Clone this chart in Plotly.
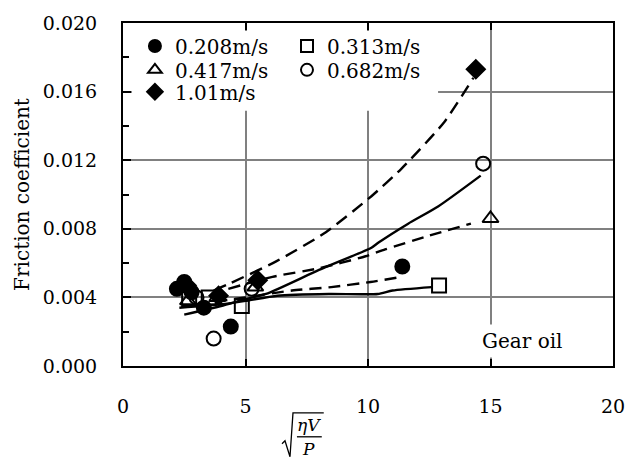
import plotly.graph_objects as go

# ---- data ----
names = ["0.208m/s", "0.313m/s", "0.417m/s", "0.682m/s", "1.01m/s"]
symbols = ["circle", "square-open", "triangle-up-open", "circle-open", "diamond"]

x_0208 = [2.2, 2.5, 2.8, 3.3, 4.4, 11.4]
y_0208 = [0.0045, 0.0049, 0.0043, 0.0034, 0.0023, 0.0058]
x_0313 = [2.7, 3.5, 4.85, 12.9]
y_0313 = [0.0039, 0.0040, 0.0035, 0.0047]
x_0417 = [2.65, 3.85, 5.4, 15.0]
y_0417 = [0.0038, 0.0040, 0.0046, 0.0086]
x_0682 = [2.5, 3.0, 3.7, 5.25, 14.7]
y_0682 = [0.0048, 0.0040, 0.0016, 0.0045, 0.0118]
x_101 = [2.6, 3.9, 5.5, 14.4]
y_101 = [0.0047, 0.0041, 0.0050, 0.0173]

# fitted curves
fx_0208 = [3.0, 5.0, 6.9, 8.5, 10.1, 11.4]
fy_0208 = [0.0036, 0.0040, 0.0044, 0.0046, 0.0049, 0.0052]
fx_0313 = [2.3, 4.0, 5.0, 6.3, 8.4, 10.4, 11.0, 12.6]
fy_0313 = [0.0034, 0.0036, 0.0038, 0.0041, 0.0042, 0.0042, 0.0044, 0.0046]
fx_0417 = [4.3, 6.1, 8.0, 9.9, 10.7, 12.5, 14.2]
fy_0417 = [0.0045, 0.0052, 0.0057, 0.0064, 0.0068, 0.0076, 0.0083]
fx_0682 = [2.5, 4.0, 5.0, 5.84, 8.0, 10.14, 10.43, 11.64, 12.86, 14.6]
fy_0682 = [0.0030, 0.0035, 0.0039, 0.0042, 0.0056, 0.0069, 0.0072, 0.0083, 0.0093, 0.0111]
fx_101 = [3.7, 4.34, 6.25, 8.28, 10.14, 11.36, 13.1, 14.3]
fy_101 = [0.0044, 0.0048, 0.0061, 0.0078, 0.0099, 0.0115, 0.0142, 0.0168]

x_ticks = [0, 5, 10, 15, 20]
y_ticks = [0.000, 0.004, 0.008, 0.012, 0.016, 0.020]

SERIF = "DejaVu Serif"
L, R, T, B = 123, 21, 22, 94
W, H = 637, 460
PW, PH = W - L - R, H - T - B


def px(xp):
    return (xp - L) / PW


def py(yp):
    return (H - B - yp) / PH


fig = go.Figure()

curves = [
    (fx_0208, fy_0208, "12px,7px"),
    (fx_0313, fy_0313, "solid"),
    (fx_0417, fy_0417, "12px,7px"),
    (fx_0682, fy_0682, "solid"),
    (fx_101, fy_101, "13px,7px"),
]
for cx, cy, dash in curves:
    fig.add_trace(go.Scatter(x=cx, y=cy, mode="lines", showlegend=False,
                             line=dict(color="black", width=2.4, dash=dash,
                                       shape="spline", smoothing=0.6),
                             hoverinfo="skip"))

series = [(x_0208, y_0208), (x_0313, y_0313), (x_0417, y_0417),
          (x_0682, y_0682), (x_101, y_101)]
legend_ids = ["legend", "legend2", "legend3", "legend4", "legend5"]
for (sx, sy), nm, sym, lid in zip(series, names, symbols, legend_ids):
    fig.add_trace(go.Scatter(
        x=sx, y=sy, mode="markers", name=nm, legend=lid,
        marker=dict(symbol=sym, size=14, color="black",
                    line=dict(color="black", width=2)),
    ))

# legend positions (px): (left, row-center)
leg_pos = [(135, 45), (288, 45), (135, 69), (288, 69), (135, 91)]
leg_layout = {}
for lid, (lx, ly) in zip(legend_ids, leg_pos):
    leg_layout[lid] = dict(x=px(lx), y=py(ly), xanchor="left", yanchor="middle",
                           bgcolor="rgba(0,0,0,0)", borderwidth=0,
                           font=dict(family=SERIF, size=20, color="black"),
                           itemsizing="constant")

fig.update_layout(
    width=W, height=H,
    margin=dict(l=L, r=R, t=T, b=B),
    paper_bgcolor="white", plot_bgcolor="white",
    font=dict(family=SERIF, size=19, color="black"),
    **leg_layout,
)

fig.update_xaxes(
    range=[0, 20], tickvals=x_ticks, ticktext=[str(v) for v in x_ticks],
    showgrid=True, gridcolor="#808080", gridwidth=1.5,
    showline=True, linecolor="black", linewidth=2, mirror="ticks",
    ticks="inside", ticklen=7, tickwidth=1.5, tickcolor="black",
    ticklabelstandoff=22, zeroline=False,
    tickfont=dict(family=SERIF, size=19, color="black"),
)
fig.update_yaxes(
    range=[0, 0.020], tickvals=y_ticks, ticktext=[f"{v:.3f}" for v in y_ticks],
    showgrid=True, gridcolor="#808080", gridwidth=1.5,
    showline=True, linecolor="black", linewidth=2, mirror=True,
    ticks="inside", ticklen=8, tickwidth=2, tickcolor="black",
    minor=dict(dtick=0.002, ticks="inside", ticklen=6, tickwidth=1.5,
               tickcolor="black", showgrid=False),
    ticklabelstandoff=20, zeroline=False,
    tickfont=dict(family=SERIF, size=19, color="black"),
    title=dict(text="Friction coefficient",
               font=dict(family=SERIF, size=20, color="black"),
               standoff=8),
)

# white box behind the legend (covers gridlines, leaves axis ticks visible)
fig.add_shape(type="rect", xref="paper", yref="paper", layer="above",
              x0=px(L + 9), x1=px(440), y0=py(110), y1=py(T + 8),
              fillcolor="white", line=dict(width=0))

# Gear oil label
fig.add_annotation(text="Gear oil", xref="paper", yref="paper",
                   x=px(525), y=py(341), xanchor="center", yanchor="middle",
                   showarrow=False,
                   font=dict(family=SERIF, size=20, color="black"),
                   bgcolor="white", borderpad=4)

# x-axis title: sqrt(eta V / P)
rad_path = "M {:.4f},{:.4f} L {:.4f},{:.4f} L {:.4f},{:.4f} L {:.4f},{:.4f} L {:.4f},{:.4f}".format(
    px(283), py(444), px(286), py(441), px(291), py(457), px(294), py(413), px(325), py(413))
fig.add_shape(type="path", xref="paper", yref="paper", path=rad_path,
              line=dict(color="black", width=1.3))
fig.add_shape(type="line", xref="paper", yref="paper",
              x0=px(298), x1=px(323), y0=py(437), y1=py(437),
              line=dict(color="black", width=1.3))
fig.add_annotation(text="<i>ηV</i>", xref="paper", yref="paper",
                   x=px(310), y=py(425), xanchor="center", yanchor="middle",
                   showarrow=False,
                   font=dict(family=SERIF, size=17, color="black"))
fig.add_annotation(text="<i>P</i>", xref="paper", yref="paper",
                   x=px(310), y=py(449), xanchor="center", yanchor="middle",
                   showarrow=False,
                   font=dict(family=SERIF, size=17, color="black"))

fig.write_html("out.html")
